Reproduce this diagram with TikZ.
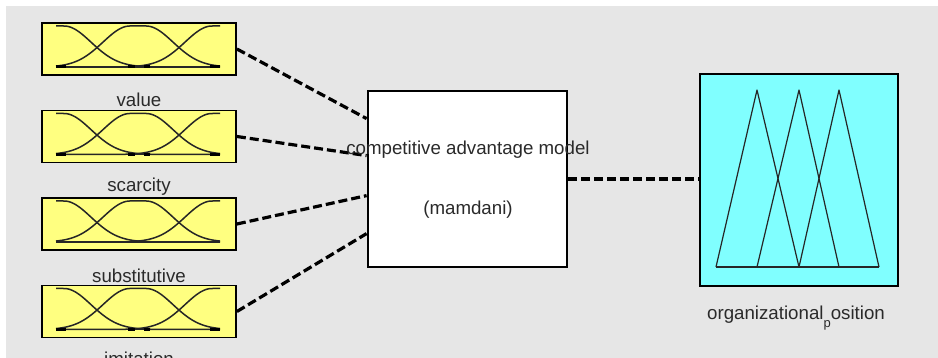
\documentclass[tikz,border=0pt]{standalone}
\usepackage{fontspec}
\setmainfont{Liberation Sans}
\usetikzlibrary{calc}
\definecolor{bggray}{HTML}{E6E6E6}
\definecolor{mfyellow}{HTML}{FFFF80}
\definecolor{mfcyan}{HTML}{80FFFF}
\definecolor{txt}{HTML}{2A2A2A}
\tikzset{
  inbox/.style={draw=black, line width=1.8pt, fill=mfyellow, minimum width=194pt, minimum height=52pt, inner sep=0pt},
  fisbox/.style={draw=black, line width=2.8pt, fill=white, minimum width=199pt, minimum height=176pt, inner sep=0pt},
  outbox/.style={draw=black, line width=1.8pt, fill=mfcyan, minimum width=198pt, minimum height=212pt, inner sep=0pt},
  lbl/.style={text=txt, font=\fontsize{18.7}{20}\selectfont, inner sep=0pt},
  mfcurve/.style={draw=black!85, line width=1.5pt, line join=round},
  trcurve/.style={draw=black!85, line width=1.2pt, line join=round},
  mfbit/.style={draw=black, line width=3pt},
  conn/.style={draw=black, line width=3.2pt, dash pattern=on 9pt off 4pt}
}
\newcommand\mfinput[2]{%
  \begin{scope}[shift={(#1.center)}]
    \draw[mfcurve] (-83,18) -- (81,18);
    \draw[mfcurve] plot[domain=-83:81,samples=90,smooth] (\x,{18-41*exp(-0.5*((max(abs(\x+83)-8,0)/27)^2))});
    \draw[mfcurve] plot[domain=-83:81,samples=90,smooth] (\x,{18-41*exp(-0.5*((max(abs(\x+1)-8,0)/27)^2))});
    \draw[mfcurve] plot[domain=-83:81,samples=90,smooth] (\x,{18-41*exp(-0.5*((max(abs(\x-81)-8,0)/27)^2))});
    \ifx#2y
      \draw[mfbit] (-83,18) -- (-73,18);
      \draw[mfbit] (-11,18) -- (-4,18);
      \draw[mfbit] (5,18) -- (11,18);
      \draw[mfbit] (71,18) -- (81,18);
    \fi
  \end{scope}}
\begin{document}
\begin{tikzpicture}[x=1pt,y=-1pt]
\useasboundingbox (0,0) rectangle (938,358);
\clip (0,0) rectangle (938,358);
\fill[white] (0,0) rectangle (938,358);
\fill[bggray] (6,6) rectangle (938,358);

% input boxes
\node[inbox] (in1) at (139,49) {};
\node[inbox] (in2) at (139,136.5) {};
\node[inbox] (in3) at (139,224) {};
\node[inbox] (in4) at (139,311.5) {};
\mfinput{in1}{y}
\mfinput{in2}{y}
\mfinput{in3}{n}
\mfinput{in4}{y}

\node[lbl] (l1) at (139,100) {value};
\node[lbl] (l2) at (139,187) {scarcity};
\node[lbl] (l3) at (139,276) {substitutive};
\node[lbl] (l4) at (139,359) {imitation};

% FIS box
\node[fisbox] (fis) at (467.5,179) {};

% output box
\node[outbox] (out) at (799,180) {};
\begin{scope}[shift={(out.center)}]
  \draw[trcurve] (-83,87) -- (80,87);
  \draw[trcurve] (-83,87) -- (-42,-90) -- (0,87);
  \draw[trcurve] (-42,87) -- (0,-90) -- (40,87);
  \draw[trcurve] (0,87) -- (40,-90) -- (80,87);
\end{scope}
\node[lbl] (lo) at (796,318) {organizational\raisebox{-0.45em}{\fontsize{13}{13}\selectfont p}osition};

% connector end points on the FIS box
\coordinate (f1) at ($(fis.north west)+(0,29)$);
\coordinate (f2) at ($(fis.north west)+(0,66)$);
\coordinate (f3) at ($(fis.north west)+(0,106)$);
\coordinate (f4) at ($(fis.north west)+(0,144)$);
\draw[conn] (in1.east) -- (f1);
\draw[conn] (in2.east) -- (f2);
\draw[conn] (in3.east) -- (f3);
\draw[conn] (in4.east) -- (f4);
\draw[conn] (fis.east) -- (fis.east -| out.west);

% FIS text
\node[lbl] (t1) at (468,150) {competitive advantage model};
\node[lbl] (t2) at (468,210) {(mamdani)};
\end{tikzpicture}
\end{document}
